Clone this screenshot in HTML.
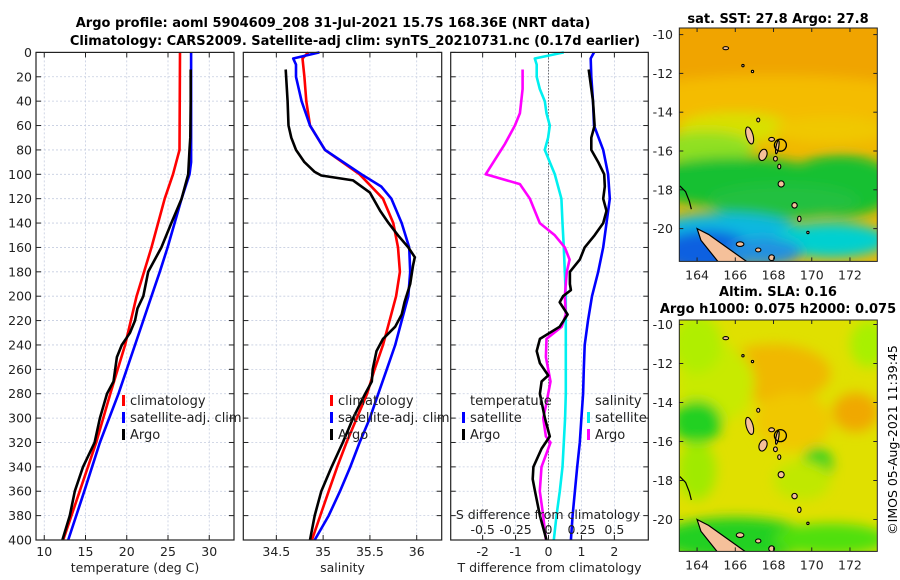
<!DOCTYPE html>
<html><head><meta charset="utf-8">
<style>
html,body{margin:0;padding:0;background:#fff;}
#root{position:relative;width:900px;height:580px;overflow:hidden;font-family:"DejaVu Sans","Liberation Sans",sans-serif;}
svg text{font-family:"DejaVu Sans","Liberation Sans",sans-serif;}
</style></head>
<body>
<div id="root">
<svg id="fig" width="900" height="580" xmlns="http://www.w3.org/2000/svg">
<defs>
<filter id="blur1" x="-20%" y="-20%" width="140%" height="140%"><feGaussianBlur stdDeviation="6"/></filter>
<clipPath id="clipMap1"><rect x="679.3" y="28" width="198" height="233.4"/></clipPath>
<clipPath id="clipMap2"><rect x="679.3" y="320" width="198" height="231.4"/></clipPath>
</defs>
<text x="333" y="27" text-anchor="middle" font-size="13" font-weight="bold">Argo profile: aoml 5904609_208 31-Jul-2021 15.7S 168.36E (NRT data)</text>
<text x="355" y="45" text-anchor="middle" font-size="13" font-weight="bold">Climatology: CARS2009. Satellite-adj clim: synTS_20210731.nc (0.17d earlier)</text>
<g id="plots"></g>
<g id="maps"></g>
<text transform="translate(897,440) rotate(-90)" text-anchor="middle" font-size="12.5">©IMOS 05-Aug-2021 11:39:45</text>
</svg>
</div>
<script>
// ---------- DATA ----------
const depthTicks = [0,20,40,60,80,100,120,140,160,180,200,220,240,260,280,300,320,340,360,380,400];
const tempTicks = [10,15,20,25,30];
const salTicks = [34.5,35,35.5,36];
const diffTicks = [-2,-1,0,1,2];
const sdiffTicks = [-0.5,-0.25,0,0.25,0.5];
const sdiffTickLabels = ["-0.5","-0.25","0","0.25","0.5"];

const climTdepth = [0,80,100,120,160,200,240,280,320,360,400];
const climT = [26.45,26.4,25.6,24.6,23.0,21.2,19.8,18.0,16.3,14.3,12.3];
const satTdepth = [0,90,100,120,140,160,180,200,240,280,320,360,400];
const satT = [27.8,27.8,27.6,26.65,25.8,24.95,24.0,23.0,21.0,19.0,16.75,14.85,12.9];
const argoTdepth = [14,40,70,80,100,120,140,160,180,200,210,220,230,240,250,270,280,300,320,340,360,380,400];
const argoT = [27.75,27.75,27.7,27.6,27.45,26.65,25.4,24.2,22.6,22.0,21.3,21.0,20.4,19.4,18.8,18.4,17.6,16.75,16.1,14.7,13.7,13.1,12.2];

const climSdepth = [0,5,20,40,60,80,100,120,140,160,180,200,220,240,260,280,300,320,340,360,380,400];
const climS = [34.84,34.78,34.80,34.82,34.86,35.02,35.39,35.64,35.75,35.80,35.82,35.78,35.71,35.64,35.55,35.47,35.36,35.25,35.15,35.06,34.97,34.88];
const satSdepth = [0,5,10,20,30,40,60,80,100,110,120,140,160,180,200,220,240,260,280,300,320,340,360,380,400];
const satS = [34.96,34.68,34.71,34.71,34.74,34.77,34.86,35.02,35.41,35.62,35.73,35.84,35.92,35.93,35.91,35.84,35.77,35.68,35.59,35.50,35.39,35.29,35.18,35.06,34.91];
const argoSdepth = [14,40,60,70,80,90,98,101,105,115,130,140,150,160,168,175,190,205,215,225,235,245,260,270,280,300,320,340,360,380,400];
const argoS = [34.60,34.62,34.63,34.66,34.71,34.80,34.91,34.98,35.32,35.50,35.61,35.70,35.80,35.91,35.98,35.96,35.93,35.87,35.84,35.77,35.64,35.57,35.53,35.52,35.45,35.32,35.21,35.09,34.98,34.91,34.86];

const satTdiffDepth = [0,5,20,40,60,80,100,120,140,160,180,200,220,240,260,280,300,320,340,360,380,400];
const satTdiff = [1.38,1.28,1.30,1.35,1.38,1.66,1.81,1.86,1.76,1.66,1.51,1.32,1.20,1.10,1.07,1.05,1.0,0.95,0.87,0.80,0.73,0.68];
const argoTdiffDepth = [14,40,60,70,80,90,100,110,120,130,140,150,160,170,180,190,195,200,205,215,225,235,245,255,265,270,280,300,315,325,340,350,360,380,400];
const argoTdiff = [1.22,1.35,1.40,1.30,1.30,1.51,1.69,1.71,1.66,1.76,1.66,1.40,1.10,0.95,0.65,0.65,0.68,0.44,0.34,0.58,0.34,-0.26,-0.36,-0.26,-0.01,-0.21,-0.26,-0.11,0.04,-0.21,-0.46,-0.48,-0.41,-0.26,-0.06];
const satSdiffDepth = [0,5,10,20,30,40,50,60,70,80,90,100,110,120,140,160,180,200,240,280,300,320,340,360,380,400];
const satSdiff = [0.116,-0.104,-0.09,-0.09,-0.066,-0.028,-0.015,0.01,-0.003,-0.028,0.01,0.048,0.073,0.098,0.106,0.116,0.124,0.131,0.131,0.131,0.126,0.116,0.106,0.086,0.061,0.04];
const argoSdiffDepth = [14,30,50,60,75,100,108,120,140,150,160,170,180,200,215,225,235,250,270,290,300,315,320,340,360,380,400];
const argoSdiff = [-0.197,-0.197,-0.217,-0.255,-0.33,-0.477,-0.217,-0.141,-0.066,0.048,0.124,0.16,0.139,0.124,0.131,0.1,-0.015,-0.02,0.015,-0.02,-0.04,-0.02,0.015,-0.053,-0.066,-0.04,-0.02];

const lonTicks = [164,166,168,170,172];
const latTicks = [-10,-12,-14,-16,-18,-20];

// ---------- HELPERS ----------
const NS = "http://www.w3.org/2000/svg";
function mk(tag, attrs, parent){
  const e = document.createElementNS(NS, tag);
  for (const k in attrs) e.setAttribute(k, attrs[k]);
  parent.appendChild(e);
  return e;
}
const plots = document.getElementById('plots');
const TOP = 52.4, BOT = 540;
function yD(d){ return TOP + (d/400)*(BOT-TOP); }

function panel(name, left, right, dmin, dmax){
  const g = mk('g', {}, plots);
  
  
  const xs = v => left + (v - dmin)/(dmax - dmin)*(right-left);
  return {g, xs, left, right};
}
function grid(p, xticks){
  for (const d of depthTicks){
    const y = yD(d);
    const l = mk('line', {x1:p.left, x2:p.right, y1:y, y2:y, stroke:'#c5cde0', 'stroke-width':0.8, 'stroke-dasharray':'2,2'}, p.g);
    
    
    mk('line', {x1:p.left, x2:p.left+5, y1:y, y2:y, stroke:'#222', 'stroke-width':1}, p.g);
    mk('line', {x1:p.right-5, x2:p.right, y1:y, y2:y, stroke:'#222', 'stroke-width':1}, p.g);
  }
  for (const v of xticks){
    const x = p.xs(v);
    const l = mk('line', {x1:x, x2:x, y1:TOP, y2:BOT, stroke:'#c5cde0', 'stroke-width':0.8, 'stroke-dasharray':'2,2'}, p.g);
    
    
    mk('line', {x1:x, x2:x, y1:BOT-5, y2:BOT, stroke:'#222', 'stroke-width':1}, p.g);
    mk('line', {x1:x, x2:x, y1:TOP, y2:TOP+5, stroke:'#222', 'stroke-width':1}, p.g);
  }
}
function frame(p){
  const r = mk('rect', {x:p.left, y:TOP, width:p.right-p.left, height:BOT-TOP, fill:'none', stroke:'#222', 'stroke-width':1.2}, p.g);
  
  
}
function xlabels(p, ticks, labels, title){
  ticks.forEach((v,i)=>{
    const t = mk('text', {x:p.xs(v), y:556, 'text-anchor':'middle', 'font-size':12.5, fill:'#222'}, p.g);
    t.textContent = labels ? labels[i] : String(v);
    
    
  });
  const t = mk('text', {x:(p.left+p.right)/2, y:572, 'text-anchor':'middle', 'font-size':12.5, fill:'#222'}, p.g);
  t.textContent = title;
  
  
}
function series(p, vals, depths, color, name, mult){
  const m = mult || 1;
  const pts = vals.map((v,i)=> p.xs(v*m).toFixed(1)+','+yD(depths[i]).toFixed(1)).join(' ');
  const pl = mk('polyline', {points:pts, fill:'none', stroke:color, 'stroke-width':2.6, 'stroke-linejoin':'round'}, p.g);
  
  
}
function legend(p, x, y, color, label, name){
  mk('rect', {x:x, y:y-10, width:3, height:11, fill:color}, p.g);
  const t = mk('text', {x:x+8, y:y, 'font-size':13, fill:'#222'}, p.g);
  t.textContent = label;
  
  
}

// ---------- PANEL 1: temperature ----------
const p1 = panel('temperature-panel', 36, 234, 9, 33);
grid(p1, tempTicks);
for (const d of depthTicks){
  const t = mk('text', {x:32, y:yD(d)+4.5, 'text-anchor':'end', 'font-size':12.5, fill:'#222'}, p1.g);
  t.textContent = String(d);
  
  
}
series(p1, climT, climTdepth, '#ff0000', 'climatology-temp-line');
series(p1, satT, satTdepth, '#0000ff', 'satellite-temp-line');
series(p1, argoT, argoTdepth, '#000000', 'argo-temp-line');
frame(p1);
xlabels(p1, tempTicks, null, 'temperature (deg C)');
legend(p1, 122, 405, '#ff0000', 'climatology', 'legend-climatology');
legend(p1, 122, 422, '#0000ff', 'satellite-adj. clim', 'legend-satellite');
legend(p1, 122, 439, '#000000', 'Argo', 'legend-argo');

// ---------- PANEL 2: salinity ----------
const p2 = panel('salinity-panel', 243.3, 441.7, 34.147, 36.267);
grid(p2, salTicks);
series(p2, climS, climSdepth, '#ff0000', 'climatology-salinity-line');
series(p2, satS, satSdepth, '#0000ff', 'satellite-salinity-line');
series(p2, argoS, argoSdepth, '#000000', 'argo-salinity-line');
frame(p2);
xlabels(p2, salTicks, null, 'salinity');
legend(p2, 330, 405, '#ff0000', 'climatology', 'legend-climatology');
legend(p2, 330, 422, '#0000ff', 'satellite-adj. clim', 'legend-satellite');
legend(p2, 330, 439, '#000000', 'Argo', 'legend-argo');

// ---------- PANEL 3: differences ----------
const p3 = panel('difference-panel', 450.7, 648.3, -2.97, 3.03);
grid(p3, diffTicks);
const zl = mk('line', {x1:p3.xs(0), x2:p3.xs(0), y1:TOP, y2:BOT, stroke:'#333', 'stroke-width':1, 'stroke-dasharray':'1,2'}, p3.g);


series(p3, satSdiff, satSdiffDepth, '#00f0f0', 'satellite-salinity-diff-line', 4);
series(p3, argoSdiff, argoSdiffDepth, '#ff00ff', 'argo-salinity-diff-line', 4);
series(p3, satTdiff, satTdiffDepth, '#0000ff', 'satellite-temp-diff-line');
series(p3, argoTdiff, argoTdiffDepth, '#000000', 'argo-temp-diff-line');
frame(p3);
xlabels(p3, diffTicks, null, 'T difference from climatology');
sdiffTicks.forEach((v,i)=>{
  const t = mk('text', {x:p3.xs(v*4), y:534, 'text-anchor':'middle', 'font-size':12.5, fill:'#222'}, p3.g);
  t.textContent = sdiffTickLabels[i];
  
  
});
{
  const t = mk('text', {x:548, y:519, 'text-anchor':'middle', 'font-size':12.5, fill:'#222'}, p3.g);
  t.textContent = 'S difference from climatology';
  
  
  const a = mk('text', {x:470, y:405, 'font-size':13, fill:'#222'}, p3.g);
  a.textContent = 'temperature';
  
  
  const b = mk('text', {x:595, y:405, 'font-size':13, fill:'#222'}, p3.g);
  b.textContent = 'salinity';
  
  
}
legend(p3, 462, 422, '#0000ff', 'satellite', 'legend-temp-satellite');
legend(p3, 462, 439, '#000000', 'Argo', 'legend-temp-argo');
legend(p3, 587, 422, '#00f0f0', 'satellite', 'legend-sal-satellite');
legend(p3, 587, 439, '#ff00ff', 'Argo', 'legend-sal-argo');

// ---------- MAPS ----------
const maps = document.getElementById('maps');
const LON0 = 163.07, LON1 = 173.43;
function mapAxes(top, bottom, lat10y, latPer, clip, name, blobs, bg, titleLines){
  const g = mk('g', {}, maps);
  
  
  const L = 679.3, R = 877.3;
  const xl = lon => L + (lon-LON0)/(LON1-LON0)*(R-L);
  const yl = lat => lat10y + (-10 - lat)*latPer;
  const cg = mk('g', {'clip-path':'url(#'+clip+')'}, g);
  mk('rect', {x:L, y:top, width:R-L, height:bottom-top, fill:bg}, cg);
  const bg2 = mk('g', {filter:'url(#blur1)'}, cg);
  for (const b of blobs){
    mk('ellipse', {cx:xl(b[0]), cy:yl(b[1]), rx:b[2]*19.1, ry:b[3]*latPer, fill:b[4]}, bg2);
  }
  const isl = [[166.75,-15.2,0.18,0.45,-15],[167.45,-16.2,0.2,0.3,20],[167.9,-15.4,0.15,0.1,0],[168.2,-15.8,0.07,0.35,10],
    [168.4,-17.7,0.16,0.16,0],[169.1,-18.8,0.14,0.14,0],[169.35,-19.5,0.09,0.14,0],[168.1,-16.4,0.1,0.12,0],[168.3,-16.8,0.08,0.12,0],
    [166.25,-20.8,0.2,0.12,0],[167.2,-21.1,0.14,0.1,0],[167.9,-21.5,0.15,0.15,0],[167.2,-14.4,0.08,0.1,0],[169.8,-20.2,0.06,0.06,0],
    [165.5,-10.7,0.15,0.08,0],[166.4,-11.6,0.06,0.06,0],[166.9,-11.9,0.06,0.06,0]];
  for (const s of isl){
    const e = mk('ellipse', {cx:xl(s[0]), cy:yl(s[1]), rx:s[2]*19.1, ry:s[3]*latPer, fill:'#f5c09a', stroke:'#000', 'stroke-width':1.1, transform:'rotate('+s[4]+' '+xl(s[0])+' '+yl(s[1])+')'}, cg);
    
    
  }
  const nc = mk('polygon', {points:[[164.0,-20.0],[164.6,-20.3],[165.6,-21.0],[166.6,-21.7],[167.2,-22.2],[165.5,-22.2],[164.2,-20.6]].map(p=>xl(p[0])+','+yl(p[1])).join(' '), fill:'#f5c09a', stroke:'#000', 'stroke-width':1.2}, cg);
  
  
  const ring = mk('circle', {cx:xl(168.36), cy:yl(-15.7), r:6, fill:'none', stroke:'#000', 'stroke-width':1.3}, cg);
  
  
  mk('polyline', {points:[[163.1,-17.8],[163.4,-18.1],[163.6,-18.6],[163.7,-19.0]].map(p=>xl(p[0])+','+yl(p[1])).join(' '), fill:'none', stroke:'#000', 'stroke-width':1.2}, cg);
  mk('rect', {x:L, y:top, width:R-L, height:bottom-top, fill:'none', stroke:'#222', 'stroke-width':1}, g);
  for (const lat of latTicks){
    const y = yl(lat);
    if (y < top-1 || y > bottom+1) continue;
    mk('line', {x1:L, x2:L+4, y1:y, y2:y, stroke:'#222'}, g);
    mk('line', {x1:R-4, x2:R, y1:y, y2:y, stroke:'#222'}, g);
    const t = mk('text', {x:673, y:y+4.5, 'text-anchor':'end', 'font-size':12.5, fill:'#222'}, g);
    t.textContent = String(lat);
    
    
  }
  for (const lon of lonTicks){
    const x = xl(lon);
    mk('line', {x1:x, x2:x, y1:bottom-4, y2:bottom, stroke:'#222'}, g);
    mk('line', {x1:x, x2:x, y1:top, y2:top+4, stroke:'#222'}, g);
    const t = mk('text', {x:x, y:bottom+18, 'text-anchor':'middle', 'font-size':12.5, fill:'#222'}, g);
    t.textContent = String(lon);
    
    
  }
  for (const tl of titleLines){
    const t = mk('text', {x:tl[1], y:tl[2], 'text-anchor':'middle', 'font-size':13, 'font-weight':'bold', fill:'#000'}, g);
    t.textContent = tl[0];
    
    
  }
}
mapAxes(28, 261.4, 34.6, 19.4, 'clipMap1', 'sst-map', [
  [168,-11,8,2.5,'#f0a400'],[168,-13.3,8,1.2,'#f4bc00'],[166,-14.8,3,0.8,'#d8e000'],[171,-14.9,3,0.7,'#f0c800'],
  [164.5,-15.8,2.5,0.8,'#90e020'],[166,-17.6,5,1.3,'#18c030'],[171.5,-17.8,3,1.6,'#18c030'],[168.5,-18.6,4,0.9,'#20c040'],
  [165.5,-20.2,4,1.0,'#10b8e0'],[171,-20.6,3,0.9,'#00d0d0'],[164.5,-21.2,2.5,1.1,'#1060e0'],[167.5,-21.2,2,0.7,'#2090e0']
], '#f0b800', [['sat. SST: 27.8 Argo: 27.8',778,23]]);
mapAxes(320, 551.4, 324.5, 19.5, 'clipMap2', 'sla-map', [
  [168,-12.5,3,1.5,'#f0b800'],[172.3,-14.5,1.2,1,'#f0a800'],[165,-13,2,2,'#c8ea00'],[164,-15,1.3,1.1,'#20d020'],
  [170.3,-17.2,0.8,0.9,'#30d020'],[169.5,-18,1.5,1,'#c0e800'],[166,-21,4,1.1,'#20d020'],[171,-21,3,0.8,'#50e010'],
  [164,-17.5,1,1.5,'#a0ea00'],[173,-11,1,1.2,'#a8f000'],[169,-15,2,1.5,'#f0c800'],[164,-11,1.3,1.5,'#b0ee00']
], '#e0e000', [['Altim. SLA: 0.16',778,296],['Argo h1000: 0.075 h2000: 0.075',778,313]]);
</script>
</body></html>
